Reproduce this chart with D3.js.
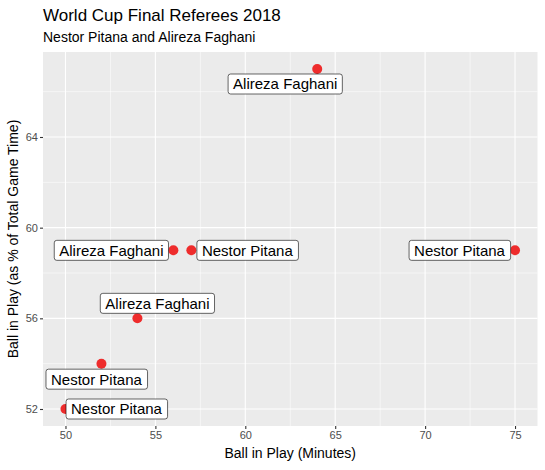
<!DOCTYPE html>
<html><head><meta charset="utf-8">
<script src="https://cdn.jsdelivr.net/npm/d3@7"></script>
<style>body{margin:0;background:#fff;} text{font-family:"Liberation Sans",Arial,sans-serif;}</style>
</head><body><svg id="c" width="545" height="470"></svg>
<script>
const minutes = [64, 56, 57, 75, 54, 52, 50];
const percent = [67, 59, 59, 59, 56, 54, 52];
const referees = ["Alireza Faghani","Alireza Faghani","Nestor Pitana","Nestor Pitana","Alireza Faghani","Nestor Pitana","Nestor Pitana"];
const xTicks = [50, 55, 60, 65, 70, 75];
const yTicks = [52, 56, 60, 64];
// label placement offsets (pixels) mimicking ggrepel layout
const labelDx = [-32, -62, 56, -55.5, 20, -5, 51];
const labelDy = [15, 0, 0, 0, -15, 15.5, 0];

const svg = d3.select("#c");
const L = 43, R = 537.5, T = 52, B = 426;
const x = d3.scaleLinear().domain([48.75, 76.25]).range([L, R]);
const y = d3.scaleLinear().domain([51.25, 67.75]).range([B, T]);

svg.append("rect").attr("x", L).attr("y", T).attr("width", R - L).attr("height", B - T).attr("fill", "#EBEBEB");
const g = svg.append("g");
const xMinor = xTicks.slice(0, -1).map((d, i) => (d + xTicks[i + 1]) / 2);
const yMinor = yTicks.slice(0, -1).map((d, i) => (d + yTicks[i + 1]) / 2).concat([66]);
g.selectAll(".xm").data(xMinor).join("line").attr("class","xm").attr("x1", d => x(d)).attr("x2", d => x(d)).attr("y1", T).attr("y2", B).attr("stroke", "#fff").attr("stroke-width", 0.55);
g.selectAll(".ym").data(yMinor).join("line").attr("class","ym").attr("y1", d => y(d)).attr("y2", d => y(d)).attr("x1", L).attr("x2", R).attr("stroke", "#fff").attr("stroke-width", 0.55);
g.selectAll(".xM").data(xTicks).join("line").attr("class","xM").attr("x1", d => x(d)).attr("x2", d => x(d)).attr("y1", T).attr("y2", B).attr("stroke", "#fff").attr("stroke-width", 1.1);
g.selectAll(".yM").data(yTicks).join("line").attr("class","yM").attr("y1", d => y(d)).attr("y2", d => y(d)).attr("x1", L).attr("x2", R).attr("stroke", "#fff").attr("stroke-width", 1.1);

const xAxis = svg.append("g").attr("transform", `translate(0,${B})`).call(d3.axisBottom(x).tickValues(xTicks).tickSize(3).tickPadding(2));
const yAxis = svg.append("g").attr("transform", `translate(${L},0)`).call(d3.axisLeft(y).tickValues(yTicks).tickSize(3).tickPadding(2));
[xAxis, yAxis].forEach(a => {
  a.select(".domain").remove();
  a.selectAll(".tick line").attr("stroke", "#333").attr("stroke-width", 1.1);
  a.selectAll(".tick text").attr("fill", "#4D4D4D").style("font-size", "11px").style("font-family", "Liberation Sans, Arial, sans-serif");
});

const data = minutes.map((m, i) => ({m, p: percent[i], name: referees[i], dx: labelDx[i], dy: labelDy[i]}));
svg.selectAll(".pt").data(data).join("circle").attr("class","pt").attr("cx", d => x(d.m)).attr("cy", d => y(d.p)).attr("r", 5).attr("fill", "#EE2C2C");

const lab = svg.selectAll(".lab").data(data).join("g").attr("class","lab").attr("transform", d => `translate(${x(d.m) + d.dx},${y(d.p) + d.dy})`);
lab.append("text").attr("text-anchor", "middle").attr("dy", "0.36em").style("font-size", "15px").attr("fill", "#000").text(d => d.name);
lab.each(function () {
  const t = d3.select(this).select("text");
  const bb = t.node().getBBox();
  d3.select(this).insert("rect", "text").attr("x", bb.x - 5).attr("y", -10).attr("width", bb.width + 10).attr("height", 20)
    .attr("rx", 2.5).attr("fill", "#fff").attr("stroke", "#000").attr("stroke-width", 0.6);
});

svg.append("text").attr("x", L).attr("y", 21).style("font-size", "17px").attr("fill", "#000").text("World Cup Final Referees 2018");
svg.append("text").attr("x", L).attr("y", 42).style("font-size", "14px").attr("fill", "#000").text("Nestor Pitana and Alireza Faghani");
svg.append("text").attr("x", (L + R) / 2).attr("y", 458).attr("text-anchor", "middle").style("font-size", "14px").attr("fill", "#000").text("Ball in Play (Minutes)");
svg.append("text").attr("transform", `translate(18,${(T + B) / 2}) rotate(-90)`).attr("text-anchor", "middle").style("font-size", "14px").attr("fill", "#000").text("Ball in Play (as % of Total Game Time)");
</script></body></html>
